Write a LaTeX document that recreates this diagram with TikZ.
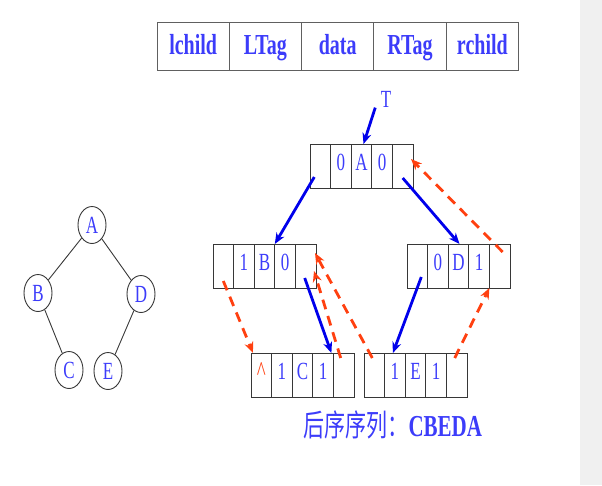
\documentclass[tikz,border=0pt]{standalone}
\usepackage{fontspec}
\usepackage{graphicx}
\setmainfont{Liberation Serif}
\newfontfamily\cjk{Noto Sans CJK SC}
\usetikzlibrary{arrows.meta, positioning, calc, shapes.geometric}
\definecolor{txtblue}{RGB}{60, 60, 250}
\definecolor{ptrblue}{RGB}{0, 0, 235}
\definecolor{thrred}{RGB}{255, 64, 16}
\definecolor{linegray}{RGB}{55, 55, 55}
\definecolor{stripgray}{RGB}{240, 240, 240}
\newcommand{\tall}[1]{\scalebox{1}[1.45]{#1}}
\newcommand{\caret}{\textcolor{thrred}{\fontsize{19}{19}\selectfont\textasciicircum}}
% one threaded node: name, left, top, five cell texts
\newcommand{\trecord}[4]{%
  \foreach \t [count=\i] in {#4}
    \node[cellbox] (#1\i) at ({#2+\i*20.6-10.3},{#3+22}) {\tall{\strut\t}};
}
\tikzset{
  cellbox/.style={draw=linegray, line width=0.9pt, minimum width=20.6pt, minimum height=44pt,
    inner sep=0pt, outer sep=0pt, text=txtblue, font=\fontsize{17}{17}\selectfont},
  headbox/.style={draw=gray!75!black, line width=0.9pt, minimum width=72.3pt, minimum height=48pt,
    inner sep=0pt, outer sep=0pt, text=txtblue, font=\fontsize{20}{20}\selectfont\bfseries},
  treenode/.style={ellipse, draw=linegray, line width=0.9pt, minimum width=28pt, minimum height=37pt,
    inner sep=0pt, text=txtblue, font=\fontsize{17}{17}\selectfont},
  ptr/.style={ptrblue, line width=2.8pt, -{Stealth[length=11pt, width=9pt]}},
  thr/.style={thrred, line width=2.8pt, dash pattern=on 10pt off 7pt, -{Stealth[length=11pt, width=9pt]}}
}
\begin{document}
\begin{tikzpicture}[x=1pt, y=-1pt]
                \useasboundingbox (0,0) rectangle (602,485);
                \fill[stripgray] (580,0) rectangle (602,485);
                % Header (node layout)
                \foreach \t [count=\i] in {lchild, LTag, data, RTag, rchild}
                  \node[headbox] (hd\i) at ({157+\i*72.3-36.15},46)
                    {\raisebox{-3pt}[\height][\depth]{\tall{\strut\t}}};
                % Binary tree
                \node[treenode] (A) at (92,225) {\tall{A}};
                \node[treenode] (B) at (38,293) {\tall{B}};
                \node[treenode] (D) at (141,294) {\tall{D}};
                \node[treenode] (C) at (69,370) {\tall{C}};
                \node[treenode] (E) at (108,371) {\tall{E}};
                \draw[linegray, line width=0.9pt] (A) -- (B) (A) -- (D) (B) -- (C) (D) -- (E);
                % Threaded nodes
                \trecord{a}{310}{144}{{},0,A,0,{}}
                \trecord{b}{213}{244}{{},1,B,0,{}}
                \trecord{d}{407}{244}{{},0,D,1,{}}
                \trecord{c}{251}{353}{\caret,1,C,1,{}}
                \trecord{e}{364}{353}{{},1,E,1,{}}
                \node[text=txtblue, font=\fontsize{17}{17}\selectfont] (T) at (386,99) {\tall{T}};
                % Child pointers
                \draw[ptr] ($(T.south west)+(-2,-3)$) -- ($(a3.north)+(2,0)$);
                \draw[ptr] ($(a1.center)+(-6,11)$) -- (b3.north east);
                \draw[ptr] ($(a5.center)+(0,12)$) -- ($(d3.north)+(1,0)$);
                \draw[ptr] ($(b5.center)+(-1,12)$) -- ($(c4.north east)+(-2,0)$);
                \draw[ptr] ($(d1.center)+(4,11)$) -- ($(e2.north)+(-2,0)$);
                % Threads
                \draw[thr] ($(d5.center)+(3,-14)$) -- ($(a5.east)+(-2,-7)$);
                \draw[thr] ($(e5.center)+(-2,-17)$) -- (d5.south west);
                \draw[thr] ($(b1.center)+(0,15)$) -- ($(c1.north west)+(2,0)$);
                \draw[thr] ($(c5.center)+(-3,-17)$) -- ($(b5.east)+(-2,5)$);
                \draw[thr] ($(e1.center)+(-2,-17)$) -- ($(b5.east)+(-1,-13)$);
                % Caption
                \node[anchor=west, text=txtblue, font=\fontsize{21}{21}\selectfont] (cap) at (300,425)
                  {\tall{{\cjk 后序序列：}\textbf{CBEDA}}};
            \end{tikzpicture}
\end{document}
